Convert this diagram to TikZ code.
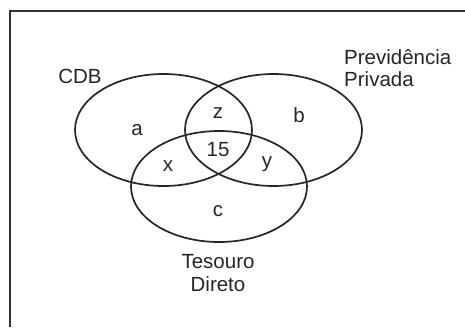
\documentclass[tikz,border=0pt]{standalone}
\usepackage{fontspec}
\setmainfont{Liberation Sans}
\begin{document}
\begin{tikzpicture}[x=1pt,y=-1pt,
  setline/.style={line width=1.7pt,draw=black!85},
  framel/.style={line width=1.8pt,draw=black!80},
  lbl/.style={font=\fontsize{20.5}{23}\selectfont,inner sep=0pt,text=black!85},
  biglbl/.style={font=\fontsize{20.5}{22.5}\selectfont,inner sep=0pt,text=black!85,align=center}]
\useasboundingbox (0,0) rectangle (465,327);
\coordinate (fbl) at (10,327);
\coordinate (ftl) at (10,11);
\coordinate (ftr) at (465,11);
\draw[framel] (fbl) -- (ftl) -- (ftr);
\draw[setline] (163.5,130) ellipse [x radius=88.5, y radius=56];
\draw[setline] (273.5,130) ellipse [x radius=88.5, y radius=56];
\draw[setline] (219,186.5) ellipse [x radius=88, y radius=55.5];
\node[lbl] (cdb) at (80,76) {CDB};
\node[biglbl,align=left,anchor=west] (pp) at (344,68) {Previdência\\Privada};
\node[biglbl] (td) at (218,273) {Tesouro\\Direto};
\node[lbl] (a) at (137,130) {a};
\node[lbl] (z) at (218,113) {z};
\node[lbl] (b) at (299,115) {b};
\node[lbl] (n15) at (218,150) {15};
\node[lbl] (x) at (168,166) {x};
\node[lbl] (y) at (267,164) {y};
\node[lbl] (c) at (218,211) {c};
\end{tikzpicture}
\end{document}
